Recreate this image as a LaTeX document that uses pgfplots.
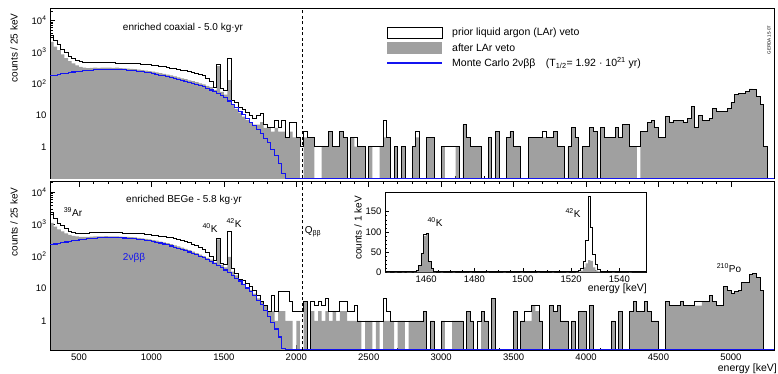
\documentclass[border=0pt]{standalone}
\usepackage{fontspec}
\setmainfont{Liberation Sans}
\usepackage{pgfplots}
\usepackage{pgfplotstable}
\pgfplotsset{compat=1.18}
\definecolor{histgray}{RGB}{160,160,160}
\definecolor{mcblue}{RGB}{20,20,240}

% enriched coaxial: bin start, prior LAr veto, after LAr veto (counts / 25 keV)
\pgfplotstableread{
E P A
300 0.01 0.01
300 3500 2100
325 2400 1500
350 1700 1150
375 1250 850
400 950 650
425 750 520
450 620 440
475 540 380
500 500 340
525 480 320
550 470 310
575 480 315
600 475 320
625 470 318
650 465 322
675 470 320
700 460 322
725 465 318
750 455 320
775 450 310
800 445 305
825 440 300
850 440 296
875 430 290
900 425 280
925 420 270
950 410 260
975 400 250
1000 390 240
1025 375 228
1050 360 215
1075 345 205
1100 330 195
1125 315 182
1150 300 170
1175 285 158
1200 270 148
1225 255 138
1250 240 128
1275 225 120
1300 215 112
1325 200 103
1350 185 95
1375 150 85
1400 120 78
1425 75 62
1450 400 360
1475 70 55
1500 62 45
1525 640 130
1550 30 22
1575 25 16
1600 18 12
1625 15 9
1650 12 7
1675 10 6
1700 8 5
1725 10 5
1750 11 6
1775 5 4
1800 4 4
1825 4 3
1850 7 4
1875 4 3
1900 7 3
1925 2 2
1950 6 3
1975 6 2
2000 2 2
2025 1 0.01
2050 3 2
2075 2 2
2100 2 2
2125 1 0.01
2150 1 0.01
2175 1 1
2200 1 1
2225 3 3
2250 1 1
2275 1 1
2300 3 3
2325 2 2
2350 0.01 0.01
2375 2 2
2400 2 1
2425 1 1
2450 1 1
2475 0.01 0.01
2500 1 1
2525 1 0.01
2550 1 0.01
2575 1 1
2600 7 2
2625 2 2
2650 0.01 0.01
2675 1 1
2700 0.01 0.01
2725 1 1
2750 0.01 0.01
2800 1 1
2825 3 2
2850 0.01 0.01
2900 2 2
2925 2 2
2950 0.01 0.01
3000 1 1
3025 1 0.01
3100 1 1
3125 0.01 0.01
3150 5 5
3175 2 2
3200 1 1
3275 0.01 0.01
3325 2 2
3350 0.01 0.01
3375 3 3
3400 0.01 0.01
3450 2 2
3475 3 3
3500 1 1
3550 0.01 0.01
3600 2 2
3700 3 2
3725 2 2
3775 3 3
3800 1 1
3850 0.01 0.01
3875 1 1
3900 4 4
3925 2 2
3950 0.01 0.01
3975 1 1
4025 4 4
4050 3 3
4075 0.01 0.01
4100 4 4
4125 2 2
4200 4 4
4225 2 2
4250 5 5
4300 1 1
4350 1 0.01
4375 3 3
4425 6 6
4450 7 7
4475 4 4
4500 2 2
4550 9 9
4575 6 6
4600 7 7
4675 6 6
4700 8 8
4725 19 19
4750 4 4
4775 10 10
4800 7 7
4850 8 8
4875 16 16
4900 13 13
4975 16 16
5000 25 25
5025 45 45
5050 48 48
5075 50 50
5100 57 57
5125 68 68
5150 66 66
5175 40 40
5200 22 22
5225 1 1
5250 0.01 0.01
5300 0.01 0.01
}\coax

% enriched BEGe
\pgfplotstableread{
E P A
300 0.01 0.01
300 2400 1100
325 1500 850
350 1100 700
375 900 600
400 720 520
425 620 470
450 560 440
475 530 420
500 520 410
525 520 405
550 530 410
575 560 415
600 570 420
625 580 425
650 575 425
675 570 430
700 560 425
725 555 420
750 550 420
775 545 415
800 540 410
825 540 405
850 535 398
875 530 390
900 520 380
925 510 368
950 495 355
975 480 340
1000 465 325
1025 450 310
1050 430 292
1075 415 275
1100 400 258
1125 380 240
1150 360 222
1175 335 205
1200 315 188
1225 290 172
1250 270 157
1275 245 142
1300 220 128
1325 195 115
1350 165 102
1375 130 90
1400 100 80
1425 78 66
1450 370 340
1475 63 55
1500 55 46
1525 590 97
1550 44 34
1575 30 26
1600 20 17
1625 18 14
1650 15 11
1675 12 9
1700 9 7
1725 6 5
1750 4 4
1775 3 3
1800 2 2
1825 6 2
1850 2 1
1875 8 2
1925 8 1
1950 4 1
1975 2 0.01
2000 2 1
2025 2 0.01
2050 4 4
2075 0.01 0.01
2100 4 2
2125 3 1
2150 4 2
2175 3 1
2200 5 2
2225 2 1
2250 2 2
2275 2 1
2300 4 2
2325 4 2
2350 2 1
2375 2 1
2400 3 1
2425 1 1
2450 1 0.01
2475 1 1
2525 1 0.01
2550 1 1
2575 1 0.01
2600 5 1
2625 2 1
2650 1 1
2675 1 0.01
2700 1 1
2750 1 0.01
2775 1 1
2875 2 2
2900 0.01 0.01
2925 1 1
2950 0.01 0.01
3000 1 1
3025 1 0.01
3075 1 1
3150 0.01 0.01
3175 2 2
3200 1 1
3225 0.01 0.01
3250 1 0.01
3275 2 2
3300 1 1
3325 0.01 0.01
3350 5 5
3375 0.01 0.01
3500 2 2
3525 0.01 0.01
3550 1 1
3575 2 1
3625 3 3
3650 3 2
3675 1 1
3700 0.01 0.01
3750 3 3
3775 2 2
3800 3 3
3825 1 1
3875 0.01 0.01
3900 1 1
3925 0.01 0.01
3950 2 2
4000 0.01 0.01
4025 3 3
4050 0.01 0.01
4175 1 1
4200 0.01 0.01
4225 2 2
4250 0.01 0.01
4300 2 2
4325 4 4
4350 2 2
4400 4 4
4425 2 2
4450 1 1
4500 0.01 0.01
4550 4 4
4575 3 3
4650 4 4
4675 3 3
4750 4 3
4800 4 4
4850 6 6
4875 4 4
4900 3 3
4950 12 12
4975 9 9
5000 7 7
5025 8 8
5050 9 9
5075 16 16
5125 27 27
5150 30 30
5175 22 22
5200 9 9
5225 0.01 0.01
5300 0.01 0.01
}\bege

% Monte Carlo 2nbb, coaxial
\pgfplotstableread{
E M
300 178
325 186
350 195
375 204
400 214
425 224
450 234
475 240
500 251
525 257
550 263
575 269
600 275
625 282
650 285
675 288
700 288
725 288
750 285
775 282
800 275
825 269
850 263
875 257
900 251
925 240
950 229
975 219
1000 209
1025 197
1050 186
1075 176
1100 166
1125 155
1150 145
1175 135
1200 126
1225 117
1250 110
1275 102
1300 95.5
1325 87
1350 79.4
1375 70.8
1400 63.1
1425 55
1450 47.9
1475 41.7
1500 35.5
1525 28.2
1550 22.4
1575 17.4
1600 13.2
1625 10.2
1650 7.94
1675 6.03
1700 4.57
1725 3.47
1750 2.63
1775 1.86
1800 1.32
1825 0.83
1850 0.525
1875 0.30
1900 0.141
1925 0.1
5300 0.1
}\mccoax

% Monte Carlo 2nbb, BEGe
\pgfplotstableread{
E M
300 234
325 245
350 257
375 269
400 282
425 295
450 309
475 320
500 331
525 343
550 355
575 363
600 372
625 380
650 385
675 389
700 389
725 389
750 385
775 380
800 376
825 367
850 359
875 351
900 343
925 331
950 320
975 309
1000 295
1025 279
1050 263
1075 245
1100 229
1125 211
1150 195
1175 180
1200 166
1225 151
1250 138
1275 126
1300 115
1325 102
1350 91
1375 80
1400 71
1425 62
1450 52.5
1475 44.7
1500 38
1525 31.6
1550 26.3
1575 21.4
1600 17.4
1625 13.5
1650 10.5
1675 7.94
1700 6.03
1725 4.37
1750 3.16
1775 2.14
1800 1.41
1825 0.89
1850 0.56
1875 0.316
1900 0.141
1925 0.125
5300 0.125
}\mcbege

\newcommand\tfs{\fontsize{10}{12}\selectfont}
\newcommand\lfs{\fontsize{10.5}{12}\selectfont}

\pgfplotsset{mainpanel/.style={
  anchor=south west, scale only axis, width=724.4pt,
  xmin=300, xmax=5300,
  xtick={500,1000,1500,2000,2500,3000,3500,4000,4500,5000},
  minor x tick num=4,
  ytick={1,10,100,1000,10000},
  yticklabels={1,10,10\textsuperscript{2},10\textsuperscript{3},10\textsuperscript{4}},
  minor ytick={0.2,0.3,0.4,0.5,0.6,0.7,0.8,0.9,2,3,4,5,6,7,8,9,20,30,40,50,60,70,80,90,200,300,400,500,600,700,800,900,2000,3000,4000,5000,6000,7000,8000,9000,20000},
  ytick pos=left, tick align=inside,
  major tick length=5pt, minor tick length=2.5pt,
  every tick/.style={black, line width=0.5pt},
  axis line style={line width=0.7pt},
  tick label style={font=\fontsize{9.5}{11}\selectfont},
}}

\begin{document}
\begin{tikzpicture}[x=1pt,y=1pt]
\path[use as bounding box] (0,0) rectangle (778,374);

% ---------- top panel: enriched coaxial
\begin{axis}[ymode=log, mainpanel, at={(50pt,195.7pt)}, height=170pt,
  ymin=0.1, ymax=24500, xtick pos=bottom, xticklabels={}]
\addplot[const plot mark left, fill=histgray, draw=none] table[x=E,y=A] {\coax};
\addplot[const plot mark left, black, line width=0.8pt] table[x=E,y=P] {\coax};
\addplot[const plot mark left, mcblue, line width=1.1pt] table[x=E,y=M] {\mccoax};
\addplot[black, line width=0.7pt, dash pattern=on 3pt off 2.5pt] coordinates {(2039,0.1) (2039,24500)};
\end{axis}

% ---------- bottom panel: enriched BEGe
\begin{axis}[ymode=log, mainpanel, at={(50pt,24pt)}, height=168.3pt,
  ymin=0.125, ymax=21000, xtick pos=both,
  xticklabels={500,1000,1500,2000,2500,3000,3500,4000,4500,5000}]
\addplot[const plot mark left, fill=histgray, draw=none] table[x=E,y=A] {\bege};
\addplot[const plot mark left, black, line width=0.8pt] table[x=E,y=P] {\bege};
\addplot[const plot mark left, mcblue, line width=1.1pt] table[x=E,y=M] {\mcbege};
\addplot[black, line width=0.7pt, dash pattern=on 3pt off 2.5pt] coordinates {(2039,0.125) (2039,21000)};
\end{axis}

% ---------- inset
\begin{axis}[anchor=south west, at={(385pt,101.7pt)}, scale only axis,
  width=261pt, height=80pt, xmin=1443, xmax=1551, ymin=0, ymax=198,
  axis background/.style={fill=white},
  xtick={1460,1480,1500,1520,1540}, xticklabels={1460,1480,1500,1520,1540},
  minor x tick num=3,
  ytick={0,50,100,150}, yticklabels={0,50,100,150}, minor y tick num=4,
  ytick pos=left, xtick pos=bottom, tick align=inside,
  major tick length=4pt, minor tick length=2pt,
  every tick/.style={black, line width=0.5pt},
  axis line style={line width=0.7pt},
  tick label style={font=\fontsize{9.5}{11}\selectfont}]
\addplot[const plot mark left, fill=histgray, draw=none] coordinates {(1443,0)(1444,1)(1445,0)(1447,1)(1448,0)(1450,1)(1451,0)(1452,1)(1454,0)(1455,1)(1456,4)(1457,16)(1458,45)(1459,90)(1460,95)(1461,25)(1462,8)(1463,2)(1464,0)(1466,1)(1467,0)(1471,1)(1472,0)(1478,1)(1479,0)(1485,1)(1486,0)(1492,1)(1493,0)(1499,1)(1500,0)(1506,1)(1507,0)(1512,1)(1513,0)(1518,1)(1519,0)(1522,1)(1523,2)(1524,4)(1525,12)(1526,22)(1527,30)(1528,28)(1529,12)(1530,5)(1531,2)(1532,0)(1537,1)(1538,0)(1544,1)(1545,0)(1551,0)};
\addplot[const plot mark left, black, line width=0.8pt] coordinates {(1443,1)(1444,2)(1445,1)(1447,2)(1448,1)(1450,2)(1451,1)(1452,3)(1453,2)(1454,1)(1455,2)(1456,5)(1457,18)(1458,48)(1459,93)(1460,97)(1461,28)(1462,10)(1463,3)(1464,1)(1465,2)(1466,1)(1468,2)(1469,1)(1471,2)(1472,1)(1474,2)(1475,1)(1477,2)(1478,1)(1481,2)(1482,1)(1484,2)(1485,1)(1487,2)(1488,1)(1490,2)(1491,1)(1494,2)(1495,1)(1497,2)(1498,1)(1501,2)(1502,1)(1504,2)(1505,1)(1508,2)(1509,1)(1512,2)(1513,1)(1515,2)(1516,1)(1518,2)(1519,1)(1521,2)(1522,3)(1523,4)(1524,10)(1525,28)(1526,80)(1527,188)(1528,110)(1529,45)(1530,20)(1531,6)(1532,2)(1533,1)(1535,2)(1536,1)(1539,2)(1540,1)(1543,2)(1544,1)(1548,2)(1549,1)(1551,1)};
\end{axis}

% ---------- texts
\node[font=\tfs] at (183,346) {enriched coaxial - 5.0 kg·yr};
\node[font=\tfs] at (184,174) {enriched BEGe - 5.8 kg·yr};
\node[font=\tfs, rotate=90] at (14,326) {counts / 25 keV};
\node[font=\tfs, rotate=90] at (14,152) {counts / 25 keV};
\node[font=\lfs, anchor=east, inner sep=0pt] at (777,5) {energy [keV]};

% legend
\draw[black, line width=0.9pt, fill=white] (387,336) rectangle (442,347);
\fill[histgray] (387,320) rectangle (442,332);
\draw[mcblue, line width=1.1pt] (387,311) -- (442,311);
\node[font=\lfs, anchor=west, inner sep=0pt] at (452,341) {prior liquid argon (LAr) veto};
\node[font=\lfs, anchor=west, inner sep=0pt] at (452,326) {after LAr veto};
\node[font=\lfs, anchor=west, inner sep=0pt] at (452,311) {Monte Carlo 2νββ\quad(T\textsubscript{1/2}= 1.92 · 10\textsuperscript{21} yr)};
\node[font=\fontsize{4.5}{5}\selectfont, rotate=90] at (769,334) {GERDA 15-07};

% annotations bottom panel
\node[font=\tfs] at (73,162) {\textsuperscript{39}Ar};
\node[font=\tfs] at (210,146) {\textsuperscript{40}K};
\node[font=\tfs] at (234,151) {\textsuperscript{42}K};
\node[font=\tfs, text=mcblue] at (134,116) {2νββ};
\node[font=\tfs] at (313,142) {Q\textsubscript{ββ}};
\node[font=\tfs] at (729,106) {\textsuperscript{210}Po};

% inset texts
\node[font=\tfs] at (435,152) {\textsuperscript{40}K};
\node[font=\tfs] at (573,161) {\textsuperscript{42}K};
\node[font=\tfs, rotate=90] at (358,146) {counts / 1 keV};
\node[font=\lfs, anchor=east, inner sep=0pt] at (647,85) {energy [keV]};
\end{tikzpicture}
\end{document}
